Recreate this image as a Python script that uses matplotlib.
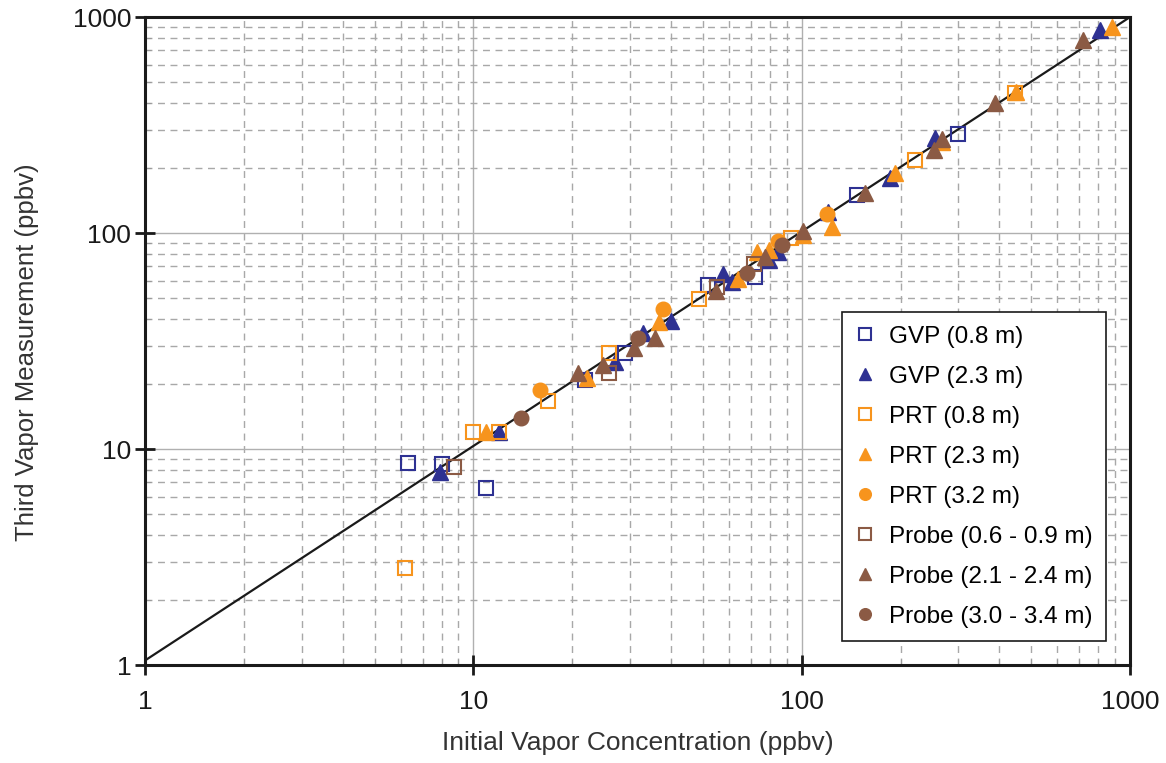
import numpy as np
import matplotlib.pyplot as plt
from matplotlib.ticker import LogLocator, NullFormatter, FixedLocator, FixedFormatter

plt.rcParams['font.family'] = ['Liberation Sans', 'DejaVu Sans']

navy = '#2e3192'
orange = '#f7941d'
brown = '#8b5a44'

# GVP (0.8 m)
gvp08_x = [6.3, 8.0, 10.9, 21.9, 29.0, 51.9, 72.0, 147.5, 299.0]
gvp08_y = [8.6, 8.5, 6.6, 20.8, 27.8, 57.5, 62.5, 150.0, 287.0]
# GVP (2.3 m)
gvp23_x = [7.9, 12.0, 27.0, 32.9, 40.0, 57.6, 61.4, 79.6, 84.7, 120.0, 186.0, 255.0, 811.0]
gvp23_y = [7.8, 12.0, 25.3, 34.4, 39.1, 64.6, 59.3, 75.0, 81.7, 125.0, 180.0, 275.0, 871.0]
# PRT (0.8 m)
prt08_x = [6.2, 10.0, 12.0, 16.9, 25.9, 48.7, 92.8, 221.0, 447.0]
prt08_y = [2.8, 12.0, 12.0, 16.7, 27.8, 49.5, 94.8, 218.0, 445.0]
# PRT (2.3 m)
prt23_x = [10.9, 22.2, 36.8, 64.0, 73.1, 79.6, 101.0, 124.0, 192.0, 268.0, 450.0, 882.0]
prt23_y = [12.0, 21.3, 38.7, 61.0, 81.7, 83.4, 97.9, 107.0, 190.0, 264.0, 450.0, 899.0]
# PRT (3.2 m)
prt32_x = [16.0, 37.8, 84.7, 119.0]
prt32_y = [18.8, 44.5, 91.8, 123.0]
# Probe (0.6 - 0.9 m)
pr1_x = [8.7, 25.9, 55.3, 71.6]
pr1_y = [8.3, 22.5, 56.2, 71.8]
# Probe (2.1 - 2.4 m)
pr2_x = [20.8, 24.8, 30.9, 35.8, 55.0, 77.4, 101.0, 156.0, 253.0, 268.0, 388.0, 719.0]
pr2_y = [22.5, 24.5, 29.4, 32.7, 53.9, 77.4, 102.0, 153.0, 242.0, 272.0, 400.0, 783.0]
# Probe (3.0 - 3.4 m)
pr3_x = [14.0, 31.7, 68.2, 87.2]
pr3_y = [13.9, 32.7, 65.3, 88.0]

# fitted 1:1 line
line_x = [1.0, 1000.0]
line_y = [1.05, 1000.0]

ticks = [1, 10, 100, 1000]
tick_labels = ['1', '10', '100', '1000']

fig = plt.figure(figsize=(11.66, 7.63), dpi=100)
ax = fig.add_axes([0.1244, 0.1284, 0.8448, 0.8493])

ax.set_xscale('log')
ax.set_yscale('log')
ax.set_xlim(1, 1000)
ax.set_ylim(1, 1000)

ax.plot(line_x, line_y, color='#1a1a1a', lw=1.6, zorder=2)

ms = 10
ax.plot(gvp08_x, gvp08_y, 's', mfc='none', mec=navy, mew=1.5, ms=ms, ls='none', label='GVP (0.8 m)', zorder=3)
ax.plot(gvp23_x, gvp23_y, '^', color=navy, ms=ms + 1.5, ls='none', label='GVP (2.3 m)', zorder=3)
ax.plot(prt08_x, prt08_y, 's', mfc='none', mec=orange, mew=1.5, ms=ms, ls='none', label='PRT (0.8 m)', zorder=3)
ax.plot(prt23_x, prt23_y, '^', color=orange, ms=ms + 1.5, ls='none', label='PRT (2.3 m)', zorder=3)
ax.plot(prt32_x, prt32_y, 'o', color=orange, ms=ms + 0.5, ls='none', label='PRT (3.2 m)', zorder=3)
ax.plot(pr1_x, pr1_y, 's', mfc='none', mec=brown, mew=1.5, ms=ms, ls='none', label='Probe (0.6 - 0.9 m)', zorder=3)
ax.plot(pr2_x, pr2_y, '^', color=brown, ms=ms + 1.5, ls='none', label='Probe (2.1 - 2.4 m)', zorder=3)
ax.plot(pr3_x, pr3_y, 'o', color=brown, ms=ms + 0.5, ls='none', label='Probe (3.0 - 3.4 m)', zorder=3)

for axis in (ax.xaxis, ax.yaxis):
    axis.set_major_locator(FixedLocator(ticks))
    axis.set_major_formatter(FixedFormatter(tick_labels))
    axis.set_minor_locator(LogLocator(base=10, subs=np.arange(2, 10)))
    axis.set_minor_formatter(NullFormatter())

ax.grid(which='major', color='#b0b0b0', lw=1.0, ls='-')
ax.grid(which='minor', color='#a8a8a8', lw=1.0, ls=(0, (5, 4)))
ax.set_axisbelow(True)

for s in ax.spines.values():
    s.set_linewidth(2.2)
    s.set_color('#1a1a1a')

ax.tick_params(which='major', direction='inout', length=14, width=2, labelsize=19, colors='#1a1a1a')
ax.tick_params(axis='x', which='major', pad=11)
ax.tick_params(axis='y', which='major', pad=3)
ax.tick_params(which='minor', direction='in', length=4, width=0.8, color='#999999')

ax.set_xlabel('Initial Vapor Concentration (ppbv)', fontsize=19, labelpad=12, color='#333333')
ax.set_ylabel('Third Vapor Measurement (ppbv)', fontsize=18.5, color='#333333')
ax.yaxis.set_label_coords(-0.108, 0.483)

leg = ax.legend(loc='lower right', bbox_to_anchor=(0.988, 0.018), fontsize=17.5,
                frameon=True, fancybox=False, edgecolor='#1a1a1a', framealpha=1,
                handlelength=0.8, handletextpad=0.6, labelspacing=0.74,
                borderpad=0.55, markerscale=0.8)
leg.get_frame().set_linewidth(1.2)

fig.savefig('out.png', dpi=100)
